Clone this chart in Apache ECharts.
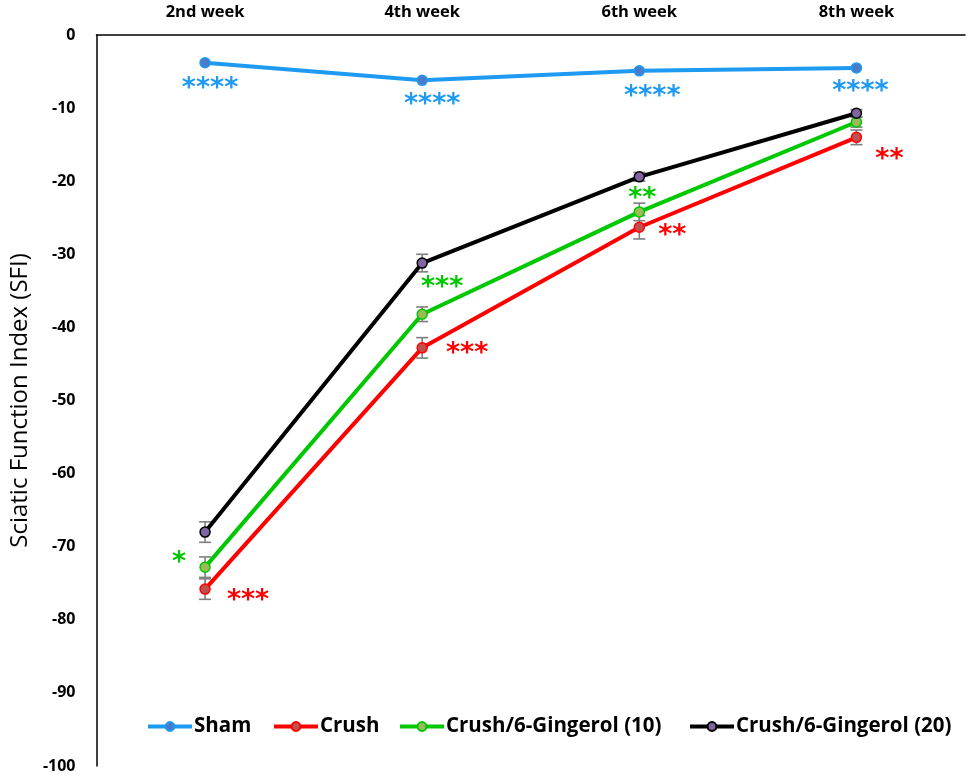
<!DOCTYPE html>
<html>
<head>
<meta charset="utf-8">
<script src="https://cdn.jsdelivr.net/npm/echarts@6/dist/echarts.min.js"></script>
<style>html,body{margin:0;padding:0;background:#fff}#c{width:968px;height:776px}</style>
</head>
<body>
<div id="c"></div>
<script>
// ---- data ----
const categories = ['2nd week', '4th week', '6th week', '8th week'];
const seriesNames = ['Sham', 'Crush', 'Crush/6-Gingerol (10)', 'Crush/6-Gingerol (20)'];
const sham   = [-3.8, -6.2, -4.9, -4.5];
const crush  = [-75.8, -42.8, -26.3, -14.0];
const ging10 = [-72.8, -38.2, -24.2, -11.9];
const ging20 = [-68.0, -31.2, -19.4, -10.7];
const crushErr  = [1.4, 1.4, 1.6, 1.0];
const ging10Err = [1.4, 1.0, 1.2, 0.7];
const ging20Err = [1.4, 1.2, 0.6, 0.5];
const shamStars   = ['****', '****', '****', '****'];
const crushStars  = ['***', '***', '**', '**'];
const ging10Stars = ['*', '***', '**', ''];
const yMin = -100, yMax = 0, yStep = 10;

// ---- styles ----
const FONT = 'Open Sans';
const lineColors   = ['#1E9AF3', '#FF0000', '#00C800', '#000000'];
const markerColors = ['#4A7BC8', '#C0504D', '#9BBB59', '#8064A2'];
const STAR_FS = 27, STAR_SHIFT = 6;
const shamOff   = [[5, 20], [10, 19], [13, 20], [4, 18]];
const crushOff  = [[43, 6], [45, 0], [33, 3], [33, 17]];
const ging10Off = [[-26, -10], [20, -32], [3, -19], [0, 0]];

function withStars(values, stars, offs, color) {
  return values.map((v, i) => {
    const s = stars ? stars[i] : '';
    if (!s) return v;
    return {
      value: v,
      label: {
        show: true, formatter: s, position: 'inside',
        align: 'center', verticalAlign: 'middle',
        offset: [offs[i][0], offs[i][1] + STAR_SHIFT],
        color: color, fontSize: STAR_FS, fontWeight: 'bold',
        fontFamily: 'DejaVu Sans'
      }
    };
  });
}

function errData(values, errs) {
  return values.map((v, i) => [i, v - errs[i], v + errs[i]]);
}

function errSeries(values, errs) {
  return {
    type: 'custom', silent: true, z: 1,
    data: errData(values, errs),
    encode: { x: 0, y: [1, 2] },
    renderItem: function (params, api) {
      const x = api.value(0);
      const lo = api.coord([x, api.value(1)]);
      const hi = api.coord([x, api.value(2)]);
      const w = 6;
      const st = { stroke: '#7F7F7F', lineWidth: 1.6 };
      return {
        type: 'group',
        children: [
          { type: 'line', shape: { x1: lo[0], y1: lo[1], x2: hi[0], y2: hi[1] }, style: st },
          { type: 'line', shape: { x1: lo[0] - w, y1: lo[1], x2: lo[0] + w, y2: lo[1] }, style: st },
          { type: 'line', shape: { x1: hi[0] - w, y1: hi[1], x2: hi[0] + w, y2: hi[1] }, style: st }
        ]
      };
    }
  };
}

function lineSeries(idx, data) {
  return {
    name: seriesNames[idx], type: 'line', z: 3,
    data: data,
    symbol: 'circle', symbolSize: 10,
    lineStyle: { color: lineColors[idx], width: 4 },
    itemStyle: { color: markerColors[idx], borderColor: lineColors[idx], borderWidth: 1.5 },
    emphasis: { disabled: true },
    label: { show: false }
  };
}

const legendLefts = [146, 272, 398, 688];
const legends = seriesNames.map((n, i) => ({
  data: [n], left: legendLefts[i], top: 716, padding: 0,
  itemWidth: 44, itemHeight: 11, itemGap: 0,
  selectedMode: false,
  lineStyle: { width: 4 },
  textStyle: { fontFamily: FONT, fontSize: 20.5, fontWeight: 'bold', color: '#000', padding: [0, 0, 0, -3] }
}));

const chart = echarts.init(document.getElementById('c'), null, { renderer: 'canvas' });
chart.setOption({
  animation: false,
  backgroundColor: '#fff',
  grid: { left: 95, right: 3, top: 35, bottom: 10, containLabel: false },
  legend: legends,
  xAxis: {
    type: 'category', position: 'top', data: categories, boundaryGap: true,
    axisLine: { show: true, lineStyle: { color: '#000', width: 1.5 } },
    axisTick: { show: false },
    axisLabel: { color: '#000', fontFamily: FONT, fontSize: 16.5, fontWeight: 'bold', margin: 14 },
    splitLine: { show: false }
  },
  yAxis: {
    type: 'value', min: yMin, max: yMax, interval: yStep,
    name: 'Sciatic Function Index (SFI)', nameLocation: 'middle', nameGap: 64,
    nameTextStyle: { color: '#000', fontFamily: FONT, fontSize: 24 },
    axisLine: { show: true, lineStyle: { color: '#000', width: 1.5 } },
    axisTick: { show: false },
    axisLabel: { color: '#000', fontFamily: FONT, fontSize: 16, fontWeight: 'bold', margin: 21 },
    splitLine: { show: false }
  },
  series: [
    errSeries(crush, crushErr),
    errSeries(ging10, ging10Err),
    errSeries(ging20, ging20Err),
    lineSeries(0, withStars(sham, shamStars, shamOff, lineColors[0])),
    lineSeries(1, withStars(crush, crushStars, crushOff, lineColors[1])),
    lineSeries(2, withStars(ging10, ging10Stars, ging10Off, lineColors[2])),
    lineSeries(3, ging20)
  ]
});
</script>
</body>
</html>
